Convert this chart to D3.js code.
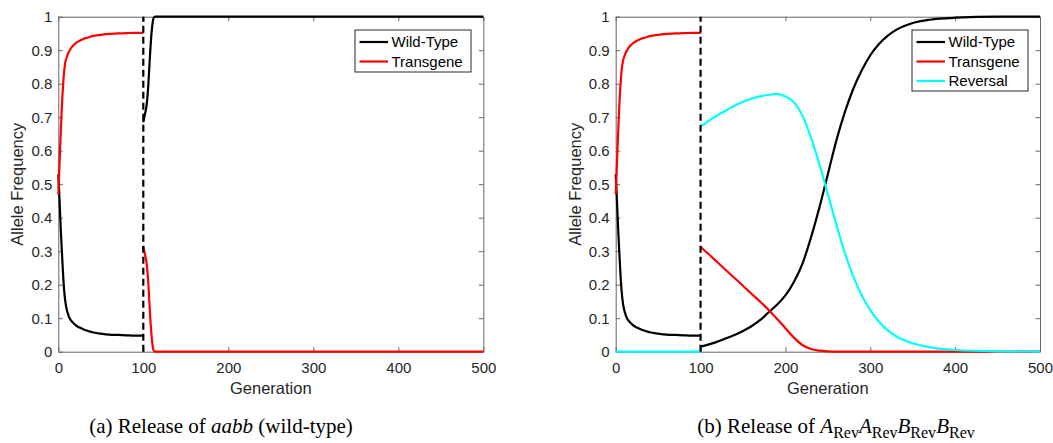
<!DOCTYPE html>
<html>
<head>
<meta charset="utf-8">
<script src="https://cdn.jsdelivr.net/npm/d3@7"></script>
<style>
  html, body { margin: 0; padding: 0; background: #fff; }
  svg { display: block; }
  text { font-family: "Liberation Sans", Arial, sans-serif; }
</style>
</head>
<body>
<svg id="chart" width="1053" height="443"></svg>
<script>
// ---------- data ----------
// Phase 1 (generations 0-100), identical in both panels
const gensPhase1 = [0, 1, 2, 3, 4, 5, 6, 7, 8, 10, 12, 14, 16, 18, 20, 25, 30, 35, 40, 50, 60, 70, 80, 90, 100];
const wildPhase1 = [0.53, 0.48, 0.42, 0.36, 0.31, 0.26, 0.215, 0.18, 0.155, 0.125, 0.108, 0.097, 0.09, 0.085, 0.08, 0.072, 0.066, 0.062, 0.058, 0.054, 0.051, 0.05, 0.049, 0.048, 0.048];
const transPhase1 = [0.47, 0.53, 0.6, 0.66, 0.72, 0.77, 0.81, 0.84, 0.86, 0.88, 0.893, 0.902, 0.91, 0.915, 0.92, 0.928, 0.934, 0.938, 0.942, 0.946, 0.949, 0.95, 0.951, 0.952, 0.952];
const revPhase1 = [0, 0, 0, 0, 0, 0, 0, 0, 0, 0, 0, 0, 0, 0, 0, 0, 0, 0, 0, 0, 0, 0, 0, 0, 0];

// Panel (a) phase 2: release of aabb (wild-type)
const gensA2 = [100, 102, 104, 106, 107, 108, 110, 112, 114, 116, 120, 150, 200, 300, 400, 500];
const wildA2 = [0.685, 0.71, 0.738, 0.80, 0.845, 0.89, 0.96, 0.995, 1, 1, 1, 1, 1, 1, 1, 1];
const transA2 = [0.315, 0.29, 0.262, 0.20, 0.155, 0.11, 0.04, 0.005, 0, 0, 0, 0, 0, 0, 0, 0];

// Panel (b) phase 2: release of reversal construct
const gensB2 = [100, 110, 120, 130, 140, 150, 160, 170, 180, 190, 200, 210, 220, 230, 240, 250, 260, 270, 280, 290, 300, 310, 320, 330, 340, 350, 370, 400, 450, 500];
const wildB2 = [0.015, 0.022, 0.030, 0.040, 0.050, 0.062, 0.076, 0.094, 0.117, 0.140, 0.168, 0.208, 0.262, 0.34, 0.43, 0.53, 0.63, 0.715, 0.785, 0.84, 0.885, 0.918, 0.942, 0.96, 0.972, 0.981, 0.991, 0.997, 1, 1];
const transB2 = [0.313, 0.29, 0.267, 0.243, 0.22, 0.197, 0.173, 0.15, 0.125, 0.098, 0.07, 0.042, 0.02, 0.008, 0.003, 0.001, 0, 0, 0, 0, 0, 0, 0, 0, 0, 0, 0, 0, 0, 0];
const revB2 = [0.672, 0.690, 0.706, 0.720, 0.734, 0.746, 0.755, 0.762, 0.767, 0.769, 0.762, 0.745, 0.705, 0.640, 0.560, 0.470, 0.380, 0.295, 0.225, 0.168, 0.124, 0.090, 0.065, 0.047, 0.034, 0.025, 0.013, 0.005, 0.001, 0];

const xTicks = [0, 100, 200, 300, 400, 500];
const yTicks = [0, 0.1, 0.2, 0.3, 0.4, 0.5, 0.6, 0.7, 0.8, 0.9, 1];
const releaseGen = 100;
const xLabel = "Generation";
const yLabel = "Allele Frequency";

// ---------- drawing ----------
const svg = d3.select("#chart");
const textColor = "#262626";
const boxColor = "#666666";

function zip(xs, ys) { return xs.map((x, i) => [x, ys[i]]); }

function drawPanel(left, right, series, legendItems, legendBox) {
  const top = 16.7, bottom = 351.7;
  const x = d3.scaleLinear().domain([0, 500]).range([left, right]);
  const y = d3.scaleLinear().domain([0, 1]).range([bottom, top]);
  const g = svg.append("g");

  const tickLen = 4.5;
  const axB = g.append("g").attr("transform", `translate(0,${bottom})`)
    .call(d3.axisBottom(x).tickValues(xTicks).tickFormat(d3.format("d")).tickSizeInner(-tickLen).tickSizeOuter(0).tickPadding(11));
  const axT = g.append("g").attr("transform", `translate(0,${top})`)
    .call(d3.axisTop(x).tickValues(xTicks).tickFormat("").tickSizeInner(-tickLen).tickSizeOuter(0));
  const axL = g.append("g").attr("transform", `translate(${left},0)`)
    .call(d3.axisLeft(y).tickValues(yTicks).tickFormat(d => d === 0 || d === 1 ? d3.format("d")(d) : d3.format(".1f")(d)).tickSizeInner(-tickLen).tickSizeOuter(0).tickPadding(6));
  const axR = g.append("g").attr("transform", `translate(${right},0)`)
    .call(d3.axisRight(y).tickValues(yTicks).tickFormat("").tickSizeInner(-tickLen).tickSizeOuter(0));
  [axB, axT, axL, axR].forEach(a => {
    a.select(".domain").attr("stroke", boxColor).attr("stroke-width", 1);
    a.selectAll(".tick line").attr("stroke", boxColor).attr("stroke-width", 1);
    a.selectAll(".tick text").attr("fill", textColor).style("font-size", "15px")
      .style("font-family", '"Liberation Sans", Arial, sans-serif');
  });
  axL.selectAll(".tick text").attr("dy", "0.35em");

  g.append("text").attr("x", (left + right) / 2).attr("y", 394)
    .attr("text-anchor", "middle").attr("fill", textColor).style("font-size", "16.5px").text(xLabel);
  g.append("text").attr("transform", `translate(${left - 35},${(top + bottom) / 2}) rotate(-90)`)
    .attr("text-anchor", "middle").attr("fill", textColor).style("font-size", "16.5px").text(yLabel);

  const line = d3.line().x(d => x(d[0])).y(d => y(d[1])).curve(d3.curveMonotoneX);

  series.forEach(s => {
    g.append("path").datum(s.points).attr("d", line)
      .attr("fill", "none").attr("stroke", s.color).attr("stroke-width", 2.2)
      .attr("stroke-linejoin", "round");
  });

  g.append("line").attr("x1", x(releaseGen)).attr("x2", x(releaseGen))
    .attr("y1", y(0)).attr("y2", y(1))
    .attr("stroke", "#000").attr("stroke-width", 2.2).attr("stroke-dasharray", "7,4");

  const lg = g.append("g");
  lg.append("rect").attr("x", legendBox.x).attr("y", legendBox.y)
    .attr("width", legendBox.w).attr("height", legendBox.h)
    .attr("fill", "#fff").attr("stroke", textColor).attr("stroke-width", 1);
  legendItems.forEach((it, i) => {
    const yy = legendBox.y + 12 + i * 19.5;
    lg.append("line").attr("x1", legendBox.x + 4.5).attr("x2", legendBox.x + 33)
      .attr("y1", yy).attr("y2", yy).attr("stroke", it.color).attr("stroke-width", 2.2);
    lg.append("text").attr("x", legendBox.x + 36.5).attr("y", yy).attr("dy", "0.35em")
      .attr("fill", "#000").style("font-size", "15px").text(it.label);
  });
}

const phase1Wild = zip(gensPhase1, wildPhase1);
const phase1Trans = zip(gensPhase1, transPhase1);

drawPanel(58.3, 483.3, [
  { color: "#000000", points: phase1Wild },
  { color: "#ff0000", points: phase1Trans },
  { color: "#000000", points: zip(gensA2, wildA2) },
  { color: "#ff0000", points: zip(gensA2, transA2) }
], [
  { label: "Wild-Type", color: "#000000" },
  { label: "Transgene", color: "#ff0000" }
], { x: 355, y: 30, w: 116, h: 42 });

drawPanel(615.7, 1040, [
  { color: "#00ffff", points: zip(gensPhase1, revPhase1) },
  { color: "#000000", points: phase1Wild },
  { color: "#ff0000", points: phase1Trans },
  { color: "#000000", points: zip(gensB2, wildB2) },
  { color: "#ff0000", points: zip(gensB2, transB2) },
  { color: "#00ffff", points: zip(gensB2, revB2) }
], [
  { label: "Wild-Type", color: "#000000" },
  { label: "Transgene", color: "#ff0000" },
  { label: "Reversal", color: "#00ffff" }
], { x: 912, y: 30, w: 116, h: 61 });

// captions
const capFont = '"Liberation Serif", "DejaVu Serif", serif';
const capA = svg.append("text").attr("x", 221).attr("y", 433).attr("text-anchor", "middle")
  .style("font-family", capFont).style("font-size", "21px").attr("fill", "#000");
capA.append("tspan").text("(a) Release of ");
capA.append("tspan").style("font-style", "italic").text("aabb");
capA.append("tspan").text(" (wild-type)");

const capB = svg.append("text").attr("x", 836).attr("y", 433).attr("text-anchor", "middle")
  .style("font-family", capFont).style("font-size", "21px").attr("fill", "#000");
capB.append("tspan").text("(b) Release of ");
["A", "A", "B", "B"].forEach((l, i) => {
  capB.append("tspan").style("font-style", "italic").attr("dy", i === 0 ? 0 : -5).text(l);
  capB.append("tspan").attr("dy", 5).style("font-size", "16px").text("Rev");
});
</script>
</body>
</html>
